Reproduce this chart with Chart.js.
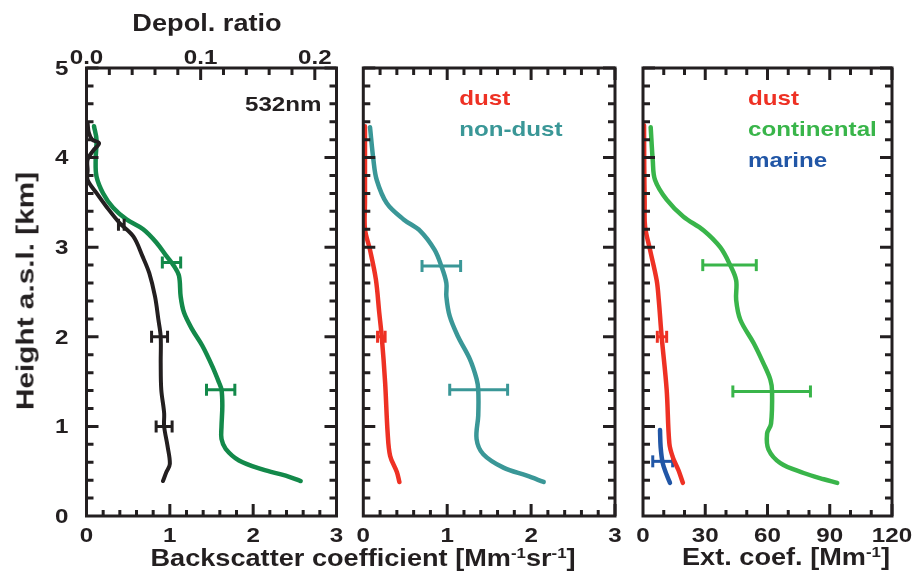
<!DOCTYPE html>
<html>
<head>
<meta charset="utf-8">
<script src="https://cdn.jsdelivr.net/npm/chart.js@4.4.1/dist/chart.umd.min.js"></script>
<style>
  body { margin: 0; background: #fff; }
  #wrap { position: relative; width: 916px; height: 584px; overflow: hidden; }
  canvas { position: absolute; top: 0; }
  .t {
    position: absolute; white-space: nowrap; color: #231f20;
    font: bold 23px "Liberation Sans", Arial, sans-serif; line-height: 23px;
    transform: translate(-50%, -50%) scaleX(1.18);
  }
  .t sup { font-size: 0.62em; vertical-align: 0.55em; line-height: 0; }
  .rot { font-size: 24px; transform: translate(-50%, -50%) rotate(-90deg) scaleX(1.24); }
</style>
</head>
<body>
<div id="wrap">
  <canvas id="c1" width="350" height="584" style="left:0"></canvas>
  <canvas id="c2" width="280" height="584" style="left:350px"></canvas>
  <canvas id="c3" width="286" height="584" style="left:630px"></canvas>
  <div class="t" style="left:207px;top:23px">Depol. ratio</div>
  <div class="t rot" style="left:25px;top:291px">Height a.s.l. [km]</div>
  <div class="t" style="left:363px;top:558px">Backscatter coefficient [Mm<sup>-1</sup>sr<sup>-1</sup>]</div>
  <div class="t" style="left:786px;top:557px">Ext. coef. [Mm<sup>-1</sup>]</div>
</div>
<script>
// tick labels
const heightTicks = [0, 1, 2, 3, 4, 5];
const bscTicks = [0, 1, 2, 3];
const depolTicks = ['0.0', '0.1', '0.2'];
const extTicks = [0, 30, 60, 90, 120];

// panel 1: depolarisation ratio (top axis) and total backscatter
const depolHeight = [4.38, 4.28, 4.2, 4.16, 4.08, 3.98, 3.86, 3.75, 3.6, 3.46, 3.27, 3.12, 2.9, 2.71, 2.45, 2.19, 2.0, 1.71, 1.41, 1.15, 1.0, 0.78, 0.58, 0.49, 0.39];
const depolRatio = [0.001, 0.002, 0.005, 0.011, 0.006, 0.001, 0.001, 0.001, 0.009, 0.017, 0.029, 0.041, 0.049, 0.055, 0.060, 0.063, 0.065, 0.065, 0.0655, 0.068, 0.068, 0.071, 0.073, 0.070, 0.067];
const depolErr = [[3.25, 0.028, 0.033], [2.0, 0.057, 0.071], [1.0, 0.061, 0.075]];

const bscHeight = [4.35, 4.2, 3.98, 3.79, 3.6, 3.44, 3.31, 3.2, 3.05, 2.9, 2.79, 2.68, 2.45, 2.27, 2.08, 1.9, 1.67, 1.49, 1.41, 1.23, 1.0, 0.86, 0.75, 0.62, 0.52, 0.45, 0.39];
const bscTotal = [0.09, 0.12, 0.11, 0.12, 0.2, 0.32, 0.48, 0.68, 0.84, 0.96, 1.05, 1.11, 1.13, 1.17, 1.27, 1.39, 1.51, 1.59, 1.62, 1.63, 1.62, 1.62, 1.67, 1.83, 2.11, 2.39, 2.57];
const bscTotalErr = [[2.83, 0.91, 1.13], [1.41, 1.44, 1.78]];

// panel 2: backscatter split
const dustBscHeight = [4.35, 3.9, 3.5, 3.2, 2.97, 2.64, 2.27, 2.0, 1.49, 0.93, 0.67, 0.49, 0.38];
const dustBsc = [0.02, 0.02, 0.02, 0.02, 0.08, 0.15, 0.19, 0.22, 0.26, 0.29, 0.32, 0.40, 0.43];
const dustBscErr = [[2.0, 0.17, 0.26]];

const nonDustHeight = [4.34, 3.98, 3.75, 3.49, 3.31, 3.18, 2.97, 2.79, 2.6, 2.45, 2.23, 2.0, 1.75, 1.53, 1.41, 1.12, 0.86, 0.69, 0.54, 0.45, 0.38];
const nonDustBsc = [0.08, 0.12, 0.16, 0.28, 0.48, 0.68, 0.85, 0.93, 0.99, 0.99, 1.03, 1.13, 1.27, 1.35, 1.37, 1.37, 1.35, 1.43, 1.67, 1.95, 2.15];
const nonDustErr = [[2.79, 0.70, 1.16], [1.41, 1.03, 1.72]];

// panel 3: extinction split
const dustExtHeight = [4.36, 3.9, 3.5, 3.23, 2.97, 2.63, 2.41, 2.0, 1.41, 0.81, 0.66, 0.51, 0.37];
const dustExt = [0.5, 0.6, 0.8, 1.0, 3.4, 6.6, 7.6, 9.0, 11.4, 12.7, 14.3, 17.1, 19.2];
const dustExtErr = [[2.0, 6.9, 11.4]];

const contHeight = [4.34, 3.97, 3.75, 3.53, 3.34, 3.19, 3.0, 2.8, 2.63, 2.41, 2.19, 1.93, 1.70, 1.52, 1.39, 1.03, 0.92, 0.74, 0.59, 0.48, 0.41, 0.37];
const contExt = [3.7, 4.7, 5.8, 11.4, 19.5, 29.1, 37.2, 42.0, 44.9, 44.9, 46.9, 53.3, 58.1, 61.4, 62.2, 61.7, 59.8, 60.5, 66.2, 77.4, 87.1, 93.6];
const contErr = [[2.8, 28.8, 54.6], [1.39, 43.3, 80.7]];

const marineHeight = [0.96, 0.77, 0.59, 0.46, 0.37];
const marineExt = [8.2, 8.5, 9.5, 11.4, 13.0];
const marineErr = [[0.61, 4.7, 14.3]];

const ink = '#231f20';
const stretch = 1.15;
const FONT = '"Liberation Sans", Arial, sans-serif';

function profile(label, heights, values, color, axis) {
    return {
        label: label,
        data: heights.map((h, i) => ({ x: values[i], y: h })),
        xAxisID: axis || 'x',
        showLine: true,
        borderColor: color,
        borderWidth: 4.5,
        borderCapStyle: 'round',
        borderJoinStyle: 'round',
        tension: 0.35,
        pointRadius: 0,
        pointHoverRadius: 0
    };
}

function errorBars(rows, color, axis) {
    return rows.map(r => ({
        data: [{ x: r[1], y: r[0] }, { x: r[2], y: r[0] }],
        xAxisID: axis || 'x',
        showLine: true,
        borderColor: color,
        borderWidth: 3,
        pointStyle: 'line',
        rotation: 90,
        pointRadius: 6,
        pointBorderWidth: 3,
        pointBorderColor: color,
        pointHoverRadius: 6,
        isError: true
    }));
}

function text(ctx, str, x, y, align, size, color, baseline) {
    ctx.save();
    ctx.translate(x, y);
    ctx.scale(stretch, 1);
    ctx.font = 'bold ' + size + 'px ' + FONT;
    ctx.fillStyle = color || ink;
    ctx.textAlign = align;
    ctx.textBaseline = baseline || 'middle';
    ctx.fillText(str, 0, 0);
    ctx.restore();
}

// frame, inward ticks, tick labels and in-plot legend
function makeFrame(cfg) {
    return {
        id: 'frame',
        afterDatasetsDraw(chart) {
            const ctx = chart.ctx;
            const a = chart.chartArea;
            const ys = chart.scales.y;
            ctx.save();
            ctx.strokeStyle = ink;
            ctx.lineWidth = 3;

            const each = (scale, max, step, every, fn) => {
                const n = Math.floor(max / step + 1e-6);
                for (let i = 1; i < n + 1; i++) fn(scale.getPixelForValue(i * step), i % every === 0);
            };
            ctx.beginPath();
            each(ys, 5, 0.2, 5, (p, major) => {
                const len = major ? 12 : 7;
                ctx.moveTo(a.left, p); ctx.lineTo(a.left + len, p);
                ctx.moveTo(a.right, p); ctx.lineTo(a.right - len, p);
            });
            const bx = chart.scales.x;
            each(bx, bx.max, cfg.bottomStep, cfg.bottomEvery, (p, major) => {
                const len = major ? 12 : 6;
                ctx.moveTo(p, a.bottom); ctx.lineTo(p, a.bottom - len);
            });
            const tx = chart.scales[cfg.topAxis];
            each(tx, tx.max, cfg.topStep, cfg.topEvery, (p, major) => {
                const len = major ? 12 : 7;
                ctx.moveTo(p, a.top); ctx.lineTo(p, a.top + len);
            });
            ctx.stroke();
            ctx.strokeRect(a.left, a.top, a.right - a.left, a.bottom - a.top);
            ctx.restore();

            cfg.bottomLabels.forEach(v => {
                text(ctx, String(v), bx.getPixelForValue(Number(v)), a.bottom + 20, 'center', 21);
            });
            if (cfg.topLabels) {
                cfg.topLabels.forEach(v => {
                    text(ctx, v, tx.getPixelForValue(Number(v)), a.top - 10, 'center', 21);
                });
            }
            if (cfg.leftLabels) {
                cfg.leftLabels.forEach(v => {
                    text(ctx, String(v), a.left - 18, ys.getPixelForValue(v) + 1, 'right', 21);
                });
            }
            if (cfg.note) text(ctx, cfg.note, a.right - 15, a.top + 43, 'right', 21, ink, 'alphabetic');
            if (cfg.legendX !== undefined) {
                let k = 0;
                chart.data.datasets.forEach(ds => {
                    if (ds.isError || !ds.label || ds.noLegend) return;
                    text(ctx, ds.label, a.left + cfg.legendX, a.top + 37 + k * 31, 'left', 21, ds.borderColor, 'alphabetic');
                    k++;
                });
            }
        }
    };
}

function makeChart(id, datasets, scales, padding, cfg) {
    return new Chart(document.getElementById(id), {
        type: 'scatter',
        data: { datasets: datasets },
        options: {
            responsive: false,
            animation: false,
            devicePixelRatio: 1,
            layout: { padding: padding },
            scales: scales,
            plugins: { legend: { display: false }, tooltip: { enabled: false } },
            events: []
        },
        plugins: [makeFrame(cfg)]
    });
}

const yScale = { type: 'linear', min: 0, max: 5, display: false };
const pad = { top: 68, bottom: 68 };

// panel 1
const black = '#231f20', darkGreen = '#13894a';
makeChart('c1', [
    Object.assign(profile('depol', depolHeight, depolRatio, black, 'x2'), { borderWidth: 4, noLegend: true }),
    ...errorBars(depolErr, black, 'x2'),
    Object.assign(profile('total', bscHeight, bscTotal, darkGreen), { noLegend: true }),
    ...errorBars(bscTotalErr, darkGreen)
], {
    x: { type: 'linear', min: 0, max: 3, display: false },
    x2: { type: 'linear', position: 'top', min: 0, max: 0.219, display: false },
    y: yScale
}, Object.assign({ left: 86.5, right: 13.5 }, pad), {
    bottomStep: 0.2, bottomEvery: 5, topAxis: 'x2', topStep: 0.02, topEvery: 5,
    bottomLabels: bscTicks, topLabels: depolTicks, leftLabels: heightTicks, note: '532nm'
});

// panel 2
const red = '#ee3124', teal = '#3a9797';
makeChart('c2', [
    profile('dust', dustBscHeight, dustBsc, red),
    ...errorBars(dustBscErr, red),
    profile('non-dust', nonDustHeight, nonDustBsc, teal),
    ...errorBars(nonDustErr, teal)
], {
    x: { type: 'linear', min: 0, max: 3, display: false },
    y: yScale
}, Object.assign({ left: 13.3, right: 15 }, pad), {
    bottomStep: 0.2, bottomEvery: 5, topAxis: 'x', topStep: 0.2, topEvery: 5,
    bottomLabels: bscTicks, legendX: 96
});

// panel 3
const green = '#39b54a', blue = '#2156a6';
makeChart('c3', [
    profile('dust', dustExtHeight, dustExt, red),
    ...errorBars(dustExtErr, red),
    profile('continental', contHeight, contExt, green),
    ...errorBars(contErr, green),
    profile('marine', marineHeight, marineExt, blue),
    ...errorBars(marineErr, blue)
], {
    x: { type: 'linear', min: 0, max: 120, display: false },
    y: yScale
}, Object.assign({ left: 13, right: 24 }, pad), {
    bottomStep: 10, bottomEvery: 3, topAxis: 'x', topStep: 10, topEvery: 3,
    bottomLabels: extTicks, legendX: 105
});
</script>
</body>
</html>
